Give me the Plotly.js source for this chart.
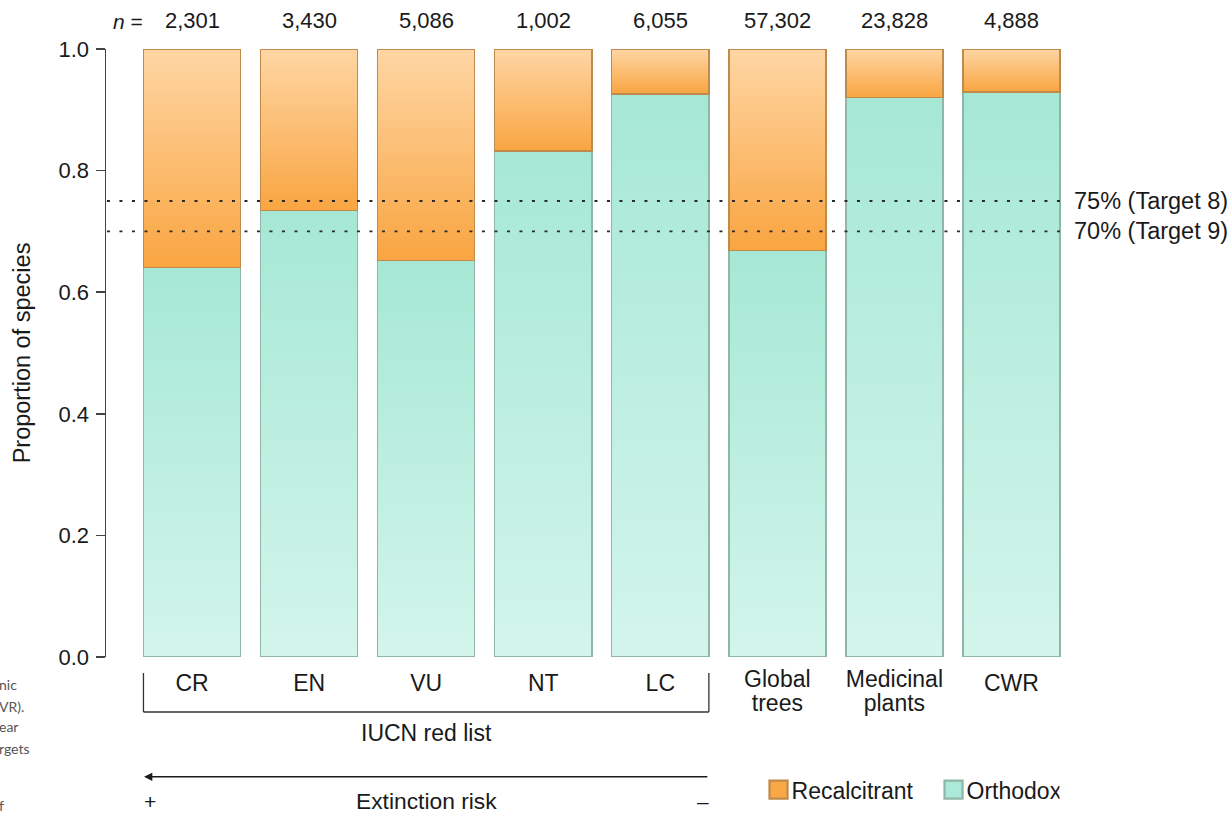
<!DOCTYPE html>
<html>
<head>
<meta charset="utf-8">
<script src="https://cdn.plot.ly/plotly-3.0.1.min.js"></script>
<style>
  html, body { margin: 0; padding: 0; background: #fff; overflow: hidden; }
  #chart { width: 1232px; height: 815px; }
</style>
</head>
<body>
<div id="chart"></div>
<script>
// ---- Data ----
const categories = ["CR", "EN", "VU", "NT", "LC", "Global trees", "Medicinal plants", "CWR"];
const tickLabels = ["CR", "EN", "VU", "NT", "LC", "Global<br>trees", "Medicinal<br>plants", "CWR"];
const nValues = ["2,301", "3,430", "5,086", "1,002", "6,055", "57,302", "23,828", "4,888"];
const orthodox = [0.641, 0.734, 0.652, 0.832, 0.926, 0.669, 0.920, 0.929];
const recalcitrant = orthodox.map(v => +(1 - v).toFixed(3));
const targets = [0.75, 0.70];
const targetLabels = ["75% (Target 8)", "70% (Target 9)"];
const captionBits = ["nic", "VR).", "ear", "rgets", "f"];
const captionY = [-0.046, -0.082, -0.115, -0.150, -0.245];

const FONT = "Arial, Liberation Sans, Helvetica, sans-serif";
const BARW = 0.83;
const TXT = "#1a1a1a";

const traces = [
  {
    type: "bar", name: "Orthodox", x: categories, y: orthodox, width: BARW,
    marker: { color: "#abe9d8", line: { color: "#8fb6a6", width: 1.5 } },
    hoverinfo: "skip"
  },
  {
    type: "bar", name: "Recalcitrant", x: categories, y: recalcitrant, width: BARW,
    marker: { color: "#f9a846", line: { color: "#c08a4a", width: 1.5 } },
    hoverinfo: "skip"
  }
];

const shapes = [];
const annotations = [];

targets.forEach((t, i) => {
  shapes.push({
    type: "line", xref: "paper", yref: "y", x0: 0.001, x1: 0.995, y0: t, y1: t,
    line: { color: "#2a2a2a", width: 1.8, dash: "3px,9.5px" }, layer: "above"
  });
  annotations.push({
    xref: "paper", yref: "y", x: 1.002, y: t, xanchor: "left", yanchor: "middle",
    text: targetLabels[i], showarrow: false, font: { family: FONT, size: 23.5, color: TXT }
  });
});

// n labels
annotations.push({
  xref: "paper", yref: "paper", x: 0.0225, y: 1, yanchor: "bottom", yshift: 14, xanchor: "center",
  text: "<i>n</i> =", showarrow: false, font: { family: FONT, size: 21, color: TXT }
});
categories.forEach((c, i) => {
  annotations.push({
    xref: "x", yref: "paper", x: c, y: 1, yanchor: "bottom", yshift: 14,
    text: nValues[i], showarrow: false, font: { family: FONT, size: 22, color: TXT }
  });
});

// IUCN bracket
const bL = -BARW / 2, bR = 4 + BARW / 2;
const brY0 = -0.0263, brY1 = -0.0905;
shapes.push({ type: "line", xref: "x", yref: "paper", x0: bL, x1: bR, y0: brY1, y1: brY1, line: { color: "#333", width: 1.3 } });
shapes.push({ type: "line", xref: "x", yref: "paper", x0: bL, x1: bL, y0: brY0, y1: brY1, line: { color: "#333", width: 1.3 } });
shapes.push({ type: "line", xref: "x", yref: "paper", x0: bR, x1: bR, y0: brY0, y1: brY1, line: { color: "#333", width: 1.3 } });
annotations.push({
  xref: "x", yref: "paper", x: 2, y: -0.125, yanchor: "middle",
  text: "IUCN red list", showarrow: false, font: { family: FONT, size: 23, color: TXT }
});

// extinction risk arrow
annotations.push({
  xref: "x", yref: "paper", x: -0.41, y: -0.197, text: "", showarrow: true,
  axref: "x", ax: bR, ay: 0, arrowhead: 2, arrowsize: 1.1, arrowwidth: 1.5, arrowcolor: TXT
});
annotations.push({
  xref: "x", yref: "paper", x: -0.359, y: -0.237, yanchor: "middle", borderpad: 0,
  text: "+", showarrow: false, font: { family: FONT, size: 21, color: TXT }
});
annotations.push({
  xref: "x", yref: "paper", x: 4.365, y: -0.237, yanchor: "middle", borderpad: 0,
  text: "\u2013", showarrow: false, font: { family: FONT, size: 21, color: TXT }
});
annotations.push({
  xref: "x", yref: "paper", x: 2, y: -0.2365, yanchor: "middle", borderpad: 0,
  text: "Extinction risk", showarrow: false, font: { family: FONT, size: 22.8, color: TXT }
});

// caption fragments at far left (cut-off neighbouring text)
captionBits.forEach((t, i) => {
  annotations.push({
    xref: "paper", yref: "paper", x: -0.113, y: captionY[i], xanchor: "left", yanchor: "middle",
    text: t, showarrow: false, font: { family: "Lato, 'Open Sans', sans-serif", size: 14, color: "#555" }
  });
});

const layout = {
  width: 1232, height: 815,
  margin: { l: 106, r: 162, t: 49, b: 158, pad: 0 },
  paper_bgcolor: "#fff", plot_bgcolor: "#fff",
  barmode: "stack",
  font: { family: FONT, size: 22, color: TXT },
  xaxis: {
    type: "category", range: [-0.735, 7.5], fixedrange: true,
    tickvals: categories, ticktext: tickLabels,
    showline: false, showgrid: false, zeroline: false,
    ticks: "outside", ticklen: 1, tickcolor: "rgba(0,0,0,0)",
    tickfont: { family: FONT, size: 23, color: TXT },
    automargin: false
  },
  yaxis: {
    range: [0, 1], fixedrange: true,
    tickvals: [0, 0.2, 0.4, 0.6, 0.8, 1.0], ticktext: ["0.0", "0.2", "0.4", "0.6", "0.8", "1.0"],
    showline: true, linecolor: "#444", linewidth: 1.5,
    ticks: "outside", ticklen: 9, tickwidth: 1.5, tickcolor: "#444",
    ticklabelstandoff: 2,
    showgrid: false, zeroline: false,
    tickfont: { family: FONT, size: 22, color: TXT },
    title: { text: "Proportion of species", font: { family: FONT, size: 23.5, color: TXT }, standoff: 21 },
    automargin: false
  },
  showlegend: true,
  legend: {
    orientation: "h", traceorder: "reversed",
    xref: "container", yref: "container", x: 0.610, y: 0.031, xanchor: "left", yanchor: "middle",
    font: { family: FONT, size: 23, color: TXT }, bgcolor: "rgba(0,0,0,0)", itemwidth: 30
  },
  shapes: shapes,
  annotations: annotations
};

Plotly.newPlot("chart", traces, layout, { staticPlot: true, displayModeBar: false }).then(gd => {
  const svg = gd.querySelector(".main-svg");
  const defs = svg.querySelector("defs");
  const NS = "http://www.w3.org/2000/svg";
  function grad(id, top, bottom) {
    const g = document.createElementNS(NS, "linearGradient");
    g.setAttribute("id", id);
    g.setAttribute("x1", "0"); g.setAttribute("y1", "0");
    g.setAttribute("x2", "0"); g.setAttribute("y2", "1");
    [[0, top], [1, bottom]].forEach(([o, c]) => {
      const s = document.createElementNS(NS, "stop");
      s.setAttribute("offset", o);
      s.setAttribute("stop-color", c);
      g.appendChild(s);
    });
    defs.appendChild(g);
  }
  grad("gradOrtho", "#a6e8d5", "#d3f5ec");
  grad("gradRecal", "#fed6a4", "#f9a541");
  const groups = gd.querySelectorAll(".barlayer .trace");
  const ids = ["gradOrtho", "gradRecal"];
  groups.forEach((g, i) => {
    g.querySelectorAll(".point path").forEach(p => { p.style.fill = "url(#" + ids[i] + ")"; });
  });

  // tighter line spacing for two-line category labels; nudge single-line ones down
  gd.querySelectorAll(".xtick text").forEach(t => {
    const lines = t.querySelectorAll("tspan.line");
    if (lines.length > 1) {
      lines.forEach((ln, k) => { if (k > 0) ln.setAttribute("dy", "1.08em"); });
    } else {
      t.setAttribute("dy", "4");
    }
  });

  // enlarge legend symbols, keep them next to the text
  gd.querySelectorAll(".legendpoints path").forEach(p => {
    const t = p.getAttribute("transform") || "";
    p.setAttribute("transform", "translate(7,0) " + t + " scale(1.5)");
  });
  // spacing between legend entries
  const items = gd.querySelectorAll(".legend .traces");
  if (items.length === 2) {
    const m = /translate\(\s*([-\d.]+)[ ,]+([-\d.]+)/.exec(items[0].getAttribute("transform") || "");
    const m2 = /translate\(\s*([-\d.]+)[ ,]+([-\d.]+)/.exec(items[1].getAttribute("transform") || "");
    if (m && m2) {
      items[1].setAttribute("transform", "translate(" + (parseFloat(m[1]) + 175) + "," + m2[2] + ")");
    }
  }
});
</script>
</body>
</html>
